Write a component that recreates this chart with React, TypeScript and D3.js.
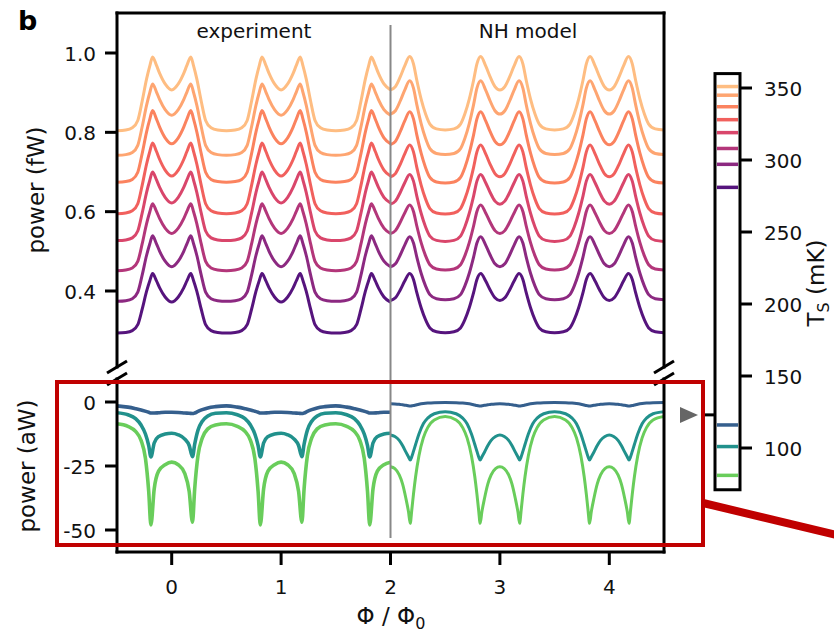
import React from 'react';
import * as d3 from 'd3';

// ---------- data ----------
// Top panel: sample temperatures (mK), bottom curve to top curve
const topTemps = [281, 297, 308, 319, 328, 337, 345, 351];
// experiment levels (fW): flat baseline, peak, central dip
const expBase = [0.294, 0.374, 0.451, 0.527, 0.595, 0.674, 0.742, 0.804];
const expPeak = [0.444, 0.539, 0.620, 0.700, 0.773, 0.855, 0.922, 0.990];
const expDip = [0.372, 0.461, 0.545, 0.622, 0.690, 0.771, 0.843, 0.907];
// NH model levels (fW)
const modelBase = [0.295, 0.378, 0.453, 0.525, 0.594, 0.672, 0.744, 0.806];
const modelPeak = [0.444, 0.537, 0.617, 0.694, 0.768, 0.852, 0.930, 0.991];
const modelDip = [0.376, 0.461, 0.545, 0.619, 0.688, 0.769, 0.846, 0.907];
// one-period profile (phase in Φ0, relative height: 0 = base/dip, 1 = peak)
const expPhase = [-0.5, -0.42, -0.36, -0.31, -0.27, -0.23, -0.2, -0.175, -0.14, -0.11, -0.06, 0, 0.06, 0.11, 0.14, 0.175, 0.2, 0.23, 0.27, 0.31, 0.36, 0.42, 0.5];
const expShape = [0, 0.01, 0.04, 0.14, 0.4, 0.7, 0.88, 1, 0.75, 0.5, 0.18, 0, 0.18, 0.5, 0.75, 1, 0.88, 0.7, 0.4, 0.14, 0.04, 0.01, 0];
const modelPhase = [-0.5, -0.42, -0.36, -0.32, -0.28, -0.24, -0.21, -0.175, -0.13, -0.09, -0.045, 0, 0.045, 0.09, 0.13, 0.175, 0.21, 0.24, 0.28, 0.32, 0.36, 0.42, 0.5];
const modelShape = [0, 0.015, 0.08, 0.22, 0.42, 0.68, 0.9, 1, 0.72, 0.4, 0.1, 0, 0.1, 0.4, 0.72, 1, 0.9, 0.68, 0.42, 0.22, 0.08, 0.015, 0];
const peakPhase = 0.175;

// Bottom panel: sample temperatures (mK): blue, teal, green
const botTemps = [116, 101, 81];
const botExpPhase = [-0.5, -0.4, -0.33, -0.28, -0.24, -0.21, -0.19, -0.16, -0.12, -0.06, 0, 0.06, 0.12, 0.16, 0.19, 0.21, 0.24, 0.28, 0.33, 0.4, 0.5];
const blueExp = [-1.5, -2, -2.6, -3.1, -3.6, -4, -4.3, -4.3, -4.2, -4, -4, -4.1, -4.3, -4.4, -4.5, -4.3, -3.7, -3, -2.3, -1.8, -1.5];
const tealExp = [-4.2, -5, -6.5, -9, -12.5, -17, -21.5, -16, -13.5, -12.5, -12.2, -12.8, -14.5, -17, -21.4, -16.5, -11, -7.5, -5.5, -4.4, -4.2];
const greenExp = [-8.5, -9.5, -11.5, -15, -22, -35, -48, -34, -27, -24.5, -23.5, -24.5, -28, -35, -47, -34, -21, -14, -10.5, -9, -8.5];
const botModelPhase = [-0.5, -0.4, -0.34, -0.3, -0.26, -0.23, -0.21, -0.195, -0.18, -0.165, -0.14, -0.11, -0.08, -0.04, 0, 0.04, 0.08, 0.11, 0.14, 0.165, 0.18, 0.195, 0.21, 0.23, 0.26, 0.3, 0.34, 0.4, 0.5];
const blueModel = [-0.2, -0.25, -0.4, -0.6, -0.9, -1.2, -1.4, -1.5, -1.6, -1.5, -1.3, -1.1, -0.9, -0.75, -0.7, -0.75, -0.9, -1.1, -1.3, -1.5, -1.6, -1.5, -1.4, -1.2, -0.9, -0.6, -0.4, -0.25, -0.2];
const tealModel = [-3.8, -4.6, -6.3, -8.5, -12.5, -16.5, -19.3, -21.3, -22.7, -21.5, -19.5, -17, -15, -13.5, -12.9, -13.5, -15, -17, -19.5, -21.5, -22.7, -21.3, -19.3, -16.5, -12.5, -8.5, -6.3, -4.6, -3.8];
const greenModel = [-5.7, -7, -10, -14, -21, -29, -36, -42, -47.4, -43, -37.5, -32, -28.5, -26, -25.3, -26, -28.5, -32, -37.5, -43, -47.4, -42, -36, -29, -21, -14, -10, -7, -5.7];

const expCenters = [0, 1, 2];
const modelCenters = [2, 3, 4];
const splitPhi = 2;

const xTicks = [0, 1, 2, 3, 4];
const topTicks = [0.4, 0.6, 0.8, 1.0];
const botTicks = [0, -25, -50];
const cbTicks = [100, 150, 200, 250, 300, 350];
const cbDomain = [71, 360];
const markerTemp = 123;

// ---------- helpers ----------
type Pt = [number, number];
function tile(phases: number[], values: number[], centers: number[], lo: number, hi: number): Pt[] {
  const pts: Pt[] = [];
  centers.forEach((c) =>
    phases.forEach((p, i) => {
      const f = c + p;
      if (f >= lo - 1e-9 && f <= hi + 1e-9) pts.push([f, values[i]]);
    })
  );
  pts.sort((a, b) => a[0] - b[0]);
  return pts.filter((p, i) => i === 0 || Math.abs(p[0] - pts[i - 1][0]) > 1e-9);
}
function levels(phases: number[], shape: number[], base: number, peak: number, dip: number) {
  return shape.map((w, i) =>
    Math.abs(phases[i]) >= peakPhase - 1e-9 ? base + (peak - base) * w : dip + (peak - dip) * w
  );
}

const FONT = 'DejaVu Sans';

export default function App() {
  const W = 834, H = 632;
  const x = d3.scaleLinear().domain([-0.5, 4.5]).range([117, 664]);
  const yTop = d3.scaleLinear().domain([0.4, 1.0]).range([291, 53]);
  const yBot = d3.scaleLinear().domain([-50, 0]).range([530, 402]);
  const yCb = d3.scaleLinear().domain([100, 350]).range([448, 88]);
  const magmaT = d3.scaleLinear().domain([281, 351]).range([0.265, 0.86]);
  const viridisT = d3.scaleLinear().domain([116, 81]).range([0.3, 0.77]);
  const topColor = (t: number) => d3.interpolateMagma(magmaT(t));
  const botColor = (t: number) => d3.interpolateViridis(viridisT(t));

  const lineTop = d3.line<Pt>().x((d) => x(d[0])).y((d) => yTop(d[1])).curve(d3.curveMonotoneX);
  const lineBot = d3.line<Pt>().x((d) => x(d[0])).y((d) => yBot(d[1])).curve(d3.curveMonotoneX);

  const xL = x(-0.5), xR = x(4.5);
  const frameTop = 13, breakTop = 367, breakBot = 379, frameBottom = 552;

  const botExpSeries = [blueExp, tealExp, greenExp];
  const botModelSeries = [blueModel, tealModel, greenModel];

  const slash = (cx: number, cy: number, k: string) => (
    <line key={k} x1={cx - 10} y1={cy + 6} x2={cx + 10} y2={cy - 6} stroke="#000" strokeWidth={3} />
  );

  return (
    <svg width={W} height={H} style={{ position: 'absolute', left: 0, top: 0, background: '#fff' }} fontFamily={FONT}>
      <rect x={0} y={0} width={W} height={H} fill="#fff" />
      {/* top curves */}
      {topTemps.map((t, k) => {
        const ev = levels(expPhase, expShape, expBase[k], expPeak[k], expDip[k]);
        const mv = levels(modelPhase, modelShape, modelBase[k], modelPeak[k], modelDip[k]);
        return (
          <g key={'t' + k} fill="none" stroke={topColor(t)} strokeWidth={3} strokeLinejoin="round">
            <path d={lineTop(tile(expPhase, ev, expCenters, -0.5, splitPhi)) || ''} />
            <path d={lineTop(tile(modelPhase, mv, modelCenters, splitPhi, 4.5)) || ''} />
          </g>
        );
      })}
      {/* bottom curves */}
      {botTemps.map((t, k) => (
        <g key={'b' + k} fill="none" stroke={botColor(t)} strokeWidth={3} strokeLinejoin="round">
          <path d={lineBot(tile(botExpPhase, botExpSeries[k], expCenters, -0.5, splitPhi)) || ''} strokeWidth={3.6} />
          <path d={lineBot(tile(botModelPhase, botModelSeries[k], modelCenters, splitPhi, 4.5)) || ''} />
        </g>
      ))}
      {/* divider */}
      <line x1={x(splitPhi)} x2={x(splitPhi)} y1={25} y2={538} stroke="#888" strokeWidth={2} />

      {/* frame */}
      <g stroke="#000" strokeWidth={3} fill="none" strokeLinecap="square">
        <line x1={xL} x2={xR} y1={frameTop} y2={frameTop} />
        <line x1={xL} x2={xL} y1={frameTop} y2={breakTop} />
        <line x1={xR} x2={xR} y1={frameTop} y2={breakTop} />
        <line x1={xL} x2={xL} y1={breakBot} y2={frameBottom} />
        <line x1={xR} x2={xR} y1={breakBot} y2={frameBottom} />
        <line x1={xL} x2={xR} y1={frameBottom} y2={frameBottom} />
      </g>
      {slash(xL, breakTop, 's1')}
      {slash(xL, breakBot, 's2')}
      {slash(xR, breakTop, 's3')}
      {slash(xR, breakBot, 's4')}

      {/* ticks */}
      <g stroke="#000" strokeWidth={3}>
        {topTicks.map((v) => <line key={'yt' + v} x1={xL - 12} x2={xL} y1={yTop(v)} y2={yTop(v)} />)}
        {botTicks.map((v) => <line key={'yb' + v} x1={xL - 12} x2={xL} y1={yBot(v)} y2={yBot(v)} />)}
        {xTicks.map((v) => <line key={'xt' + v} x1={x(v)} x2={x(v)} y1={frameBottom} y2={frameBottom + 13} />)}
      </g>
      <g fontSize={20} fill="#111">
        {topTicks.map((v) => (
          <text key={'ytl' + v} x={96} y={yTop(v) + 7.5} textAnchor="end">{d3.format('.1f')(v)}</text>
        ))}
        {botTicks.map((v) => (
          <text key={'ybl' + v} x={96} y={yBot(v) + 7.5} textAnchor="end">{String(v)}</text>
        ))}
        {xTicks.map((v) => (
          <text key={'xtl' + v} x={x(v)} y={594} textAnchor="middle">{String(v)}</text>
        ))}
        <text x={254} y={38} textAnchor="middle">experiment</text>
        <text x={528} y={38} textAnchor="middle">NH model</text>
      </g>
      <text x={18} y={30} fontSize={27} fontWeight="bold" fill="#000">b</text>
      <text transform="translate(44,190) rotate(-90)" textAnchor="middle" fontSize={23} fill="#111">power (fW)</text>
      <text transform="translate(35,466) rotate(-90)" textAnchor="middle" fontSize={23} fill="#111">power (aW)</text>
      <text x={391} y={624} textAnchor="middle" fontSize={23} fill="#111">
        Φ / Φ<tspan dy={5} fontSize={16}>0</tspan>
      </text>

      {/* colorbar */}
      {topTemps.map((t) => (
        <line key={'cbt' + t} x1={717} x2={738} y1={yCb(t)} y2={yCb(t)} stroke={topColor(t)} strokeWidth={3.5} />
      ))}
      {botTemps.map((t) => (
        <line key={'cbb' + t} x1={717} x2={738} y1={yCb(t)} y2={yCb(t)} stroke={botColor(t)} strokeWidth={3.5} />
      ))}
      <rect x={715} y={yCb(cbDomain[1])} width={25} height={yCb(cbDomain[0]) - yCb(cbDomain[1])} fill="none" stroke="#000" strokeWidth={3} />
      <g stroke="#000" strokeWidth={3}>
        {cbTicks.map((v) => <line key={'cbtk' + v} x1={740} x2={752} y1={yCb(v)} y2={yCb(v)} />)}
        <line x1={703} x2={715} y1={yCb(markerTemp)} y2={yCb(markerTemp)} />
      </g>
      <g fontSize={20} fill="#111">
        {cbTicks.map((v) => (
          <text key={'cbl' + v} x={764} y={yCb(v) + 7.5}>{String(v)}</text>
        ))}
      </g>
      <text transform="translate(824,283) rotate(-90)" textAnchor="middle" fontSize={23} fill="#111">
        T<tspan dy={5} fontSize={16}>S</tspan><tspan dy={-5}> (mK)</tspan>
      </text>
      <path
        d={`M680,${yCb(markerTemp) - 8} L698,${yCb(markerTemp)} L680,${yCb(markerTemp) + 8} Z`}
        fill="#666"
      />

      {/* highlight */}
      <rect x={57} y={382} width={646} height={163} fill="none" stroke="#c00000" strokeWidth={4} />
      <line x1={703} y1={503} x2={845} y2={537} stroke="#c00000" strokeWidth={8} />
    </svg>
  );
}
